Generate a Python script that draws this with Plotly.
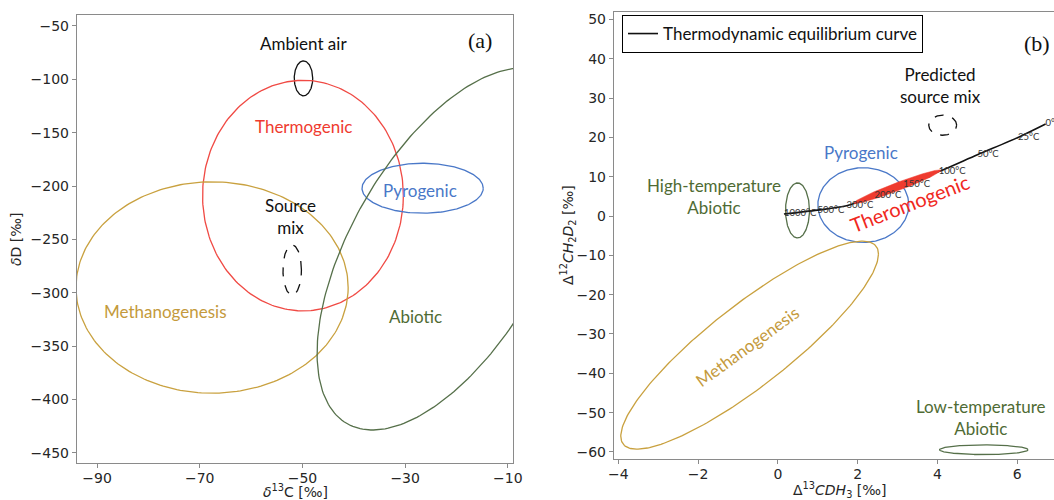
import numpy as np
import plotly.graph_objects as go

# ---------------- Panel (a): delta13C vs deltaD source fields ----------------
a_names = ["Ambient air", "Thermogenic", "Methanogenesis", "Pyrogenic", "Source mix", "Abiotic"]
a_cx = [-49.8, -49.9, -67.6, -26.6, -52.0, -21.8]
a_cy = [-99.0, -208.9, -295.0, -202.0, -278.6, -258.9]
a_sx = [1.8, 19.55, 26.5, 11.8, 1.8, 25.35]
a_sy = [16.4, 108.0, 99.0, 23.4, 23.5, 169.6]
a_corr = [0.0, 0.0, 0.0, 0.0, 0.0, 0.575]

# ---------------- Panel (b): clumped isotopes ----------------
b_names = ["High-temperature Abiotic", "Pyrogenic", "Methanogenesis",
           "Low-temperature Abiotic", "Predicted source mix"]
b_cx = [0.49, 2.14, -0.71, 5.16, 4.13]
b_cy = [1.43, 2.8, -32.84, -59.45, 23.1]
b_sx = [0.30, 1.14, 3.23, 1.11, 0.35]
b_sy = [7.0, 9.5, 26.46, 1.23, 2.55]
b_corr = [0.0, 0.0, 0.875, 0.0, 0.0]

# Thermogenic field along the equilibrium curve (filled)
thermo_cx, thermo_cy, thermo_sx, thermo_sy, thermo_corr = 2.99, 7.45, 1.09, 4.28, 0.967

# Thermodynamic equilibrium curve (temperature points)
eq_T = [1000, 500, 300, 200, 150, 100, 50, 25, 0]
eq_x = [0.15, 0.99, 1.72, 2.42, 3.14, 4.03, 5.00, 6.02, 6.71]
eq_y = [0.5, 1.5, 2.6, 5.1, 7.9, 11.3, 15.6, 20.0, 23.4]

RED = "#EF3B2F"
GOLD = "#C9A13F"
BLUE = "#4A78C8"
GREEN = "#4F6B34"
BLACK = "#111111"

a_style = {
    "Ambient air": dict(color=BLACK, dash="solid"),
    "Thermogenic": dict(color="#F04A44", dash="solid"),
    "Methanogenesis": dict(color=GOLD, dash="solid"),
    "Pyrogenic": dict(color=BLUE, dash="solid"),
    "Source mix": dict(color=BLACK, dash="dash"),
    "Abiotic": dict(color="#56704A", dash="solid"),
}
b_style = {
    "High-temperature Abiotic": dict(color="#56704A", dash="solid"),
    "Pyrogenic": dict(color=BLUE, dash="solid"),
    "Methanogenesis": dict(color=GOLD, dash="solid"),
    "Low-temperature Abiotic": dict(color="#56704A", dash="solid"),
    "Predicted source mix": dict(color=BLACK, dash="dash"),
}


def ellipse(cx, cy, sx, sy, r, n=241):
    t = np.linspace(0, 2 * np.pi, n)
    x = cx + sx * np.cos(t)
    y = cy + sy * (r * np.cos(t) + np.sqrt(1 - r * r) * np.sin(t))
    return x, y


fig = go.Figure()

for name, cx, cy, sx, sy, r in zip(a_names, a_cx, a_cy, a_sx, a_sy, a_corr):
    x, y = ellipse(cx, cy, sx, sy, r)
    st = a_style[name]
    fig.add_trace(go.Scatter(x=x, y=y, mode="lines", name=name, showlegend=False,
                             line=dict(color=st["color"], width=1.3, dash=st["dash"]),
                             xaxis="x", yaxis="y", hoverinfo="skip"))

for name, cx, cy, sx, sy, r in zip(b_names, b_cx, b_cy, b_sx, b_sy, b_corr):
    x, y = ellipse(cx, cy, sx, sy, r)
    st = b_style[name]
    fig.add_trace(go.Scatter(x=x, y=y, mode="lines", name=name, showlegend=False,
                             line=dict(color=st["color"], width=1.3, dash=st["dash"]),
                             xaxis="x2", yaxis="y2", hoverinfo="skip"))

fig.add_trace(go.Scatter(x=eq_x, y=eq_y, mode="lines", name="Thermodynamic equilibrium curve",
                         line=dict(color=BLACK, width=1.6, shape="spline", smoothing=0.8),
                         xaxis="x2", yaxis="y2", showlegend=True))

tx, ty = ellipse(thermo_cx, thermo_cy, thermo_sx, thermo_sy, thermo_corr)
fig.add_trace(go.Scatter(x=tx, y=ty, mode="lines", name="Thermogenic", showlegend=False,
                         fill="toself", fillcolor=RED, line=dict(color=RED, width=0.5),
                         xaxis="x2", yaxis="y2", hoverinfo="skip"))

fig.add_trace(go.Scatter(x=eq_x, y=eq_y, mode="text", showlegend=False,
                         text=[f"{t}\u00b0C" for t in eq_T], textposition="middle right",
                         textfont=dict(family="Lato", size=9.5, color="#333333"),
                         xaxis="x2", yaxis="y2", hoverinfo="skip"))

LBL = "Lato"
ann = []


def add_text(x, y, text, color, ref, size=17, angle=0, family=LBL):
    ann.append(dict(x=x, y=y, xref=ref[0], yref=ref[1], text=text, showarrow=False,
                    textangle=angle, font=dict(family=family, size=size, color=color),
                    xanchor="center", yanchor="middle"))


A = ("x", "y")
B = ("x2", "y2")
add_text(-49.8, -66.6, "Ambient air", BLACK, A)
add_text(-49.7, -144.6, "Thermogenic", RED, A)
add_text(-27.1, -204.5, "Pyrogenic", BLUE, A)
add_text(-52.25, -228.9, "Source<br>mix", BLACK, A)
add_text(-76.6, -317.8, "Methanogenesis", "#C49A3C", A)
add_text(-28.0, -322.4, "Abiotic", GREEN, A)
add_text(-15.4, -63.5, "(a)", BLACK, A, size=22, family="Liberation Serif")

add_text(4.08, 33.3, "Predicted<br>source mix", BLACK, B)
add_text(2.07, 16.1, "Pyrogenic", BLUE, B)
add_text(-1.6, 4.9, "High-temperature<br>Abiotic", GREEN, B)
add_text(3.32, 3.2, "Theromogenic", "#F0281E", B, size=20, angle=-21)
add_text(-0.77, -33.2, "Methanogenesis", "#C49A3C", B, angle=-36)
add_text(5.1, -51.3, "Low-temperature<br>Abiotic", GREEN, B)
add_text(6.5, 44.0, "(b)", BLACK, B, size=22, family="Liberation Serif")

W, H = 1054, 500
TFONT = dict(family="DejaVu Sans", size=14, color="#262626")
# axis titles (placed in the figure margins)
ann.append(dict(x=295 / W, y=-1 / H, xref="paper", yref="paper", xanchor="center", yanchor="bottom",
                text="<i>δ</i><sup>13</sup>C [‰]", showarrow=False, font=TFONT, borderpad=0))
ann.append(dict(x=16 / W, y=1 - 239 / H, xref="paper", yref="paper", xanchor="center", yanchor="middle",
                text="<i>δ</i>D [‰]", textangle=-90, showarrow=False, font=TFONT))
ann.append(dict(x=840 / W, y=-1 / H, xref="paper", yref="paper", xanchor="center", yanchor="bottom",
                text="Δ<sup>13</sup><i>CDH</i><sub>3</sub> [‰]", showarrow=False, font=TFONT, borderpad=0))
ann.append(dict(x=568 / W, y=1 - 235 / H, xref="paper", yref="paper", xanchor="center", yanchor="middle",
                text="Δ<sup>12</sup><i>CH</i><sub>2</sub><i>D</i><sub>2</sub> [‰]", textangle=-90,
                showarrow=False, font=TFONT))

axis_common = dict(showline=True, mirror=True, linecolor="#8a8a8a", linewidth=1.4,
                   ticks="outside", ticklen=4, tickwidth=1.2, tickcolor="#8a8a8a",
                   showgrid=False, zeroline=False, automargin=False,
                   tickfont=dict(family="DejaVu Sans", size=14, color="#262626"))

fig.update_layout(
    width=W, height=H,
    margin=dict(l=0, r=0, t=0, b=0),
    paper_bgcolor="white", plot_bgcolor="white",
    xaxis=dict(domain=[77 / W, 513 / W], range=[-93.9, -9.0], anchor="y",
               tickvals=[-90, -70, -50, -30, -10], ticklabelstandoff=-2, **axis_common),
    yaxis=dict(domain=[1 - 463 / H, 1 - 15 / H], range=[-459.4, -39.7], anchor="x",
               tickvals=[-450, -400, -350, -300, -250, -200, -150, -100, -50], **axis_common),
    xaxis2=dict(domain=[614 / W, 1.0], range=[-4.11, 6.92], anchor="y2",
                tickvals=[-4, -2, 0, 2, 4, 6], ticklabelstandoff=-2, **axis_common),
    yaxis2=dict(domain=[1 - 459 / H, 1 - 12 / H], range=[-61.8, 51.9], anchor="x2",
                tickvals=[-60, -50, -40, -30, -20, -10, 0, 10, 20, 30, 40, 50], **axis_common),
    legend=dict(x=622 / W, y=1 - 15 / H, xanchor="left", yanchor="top",
                bordercolor="black", borderwidth=1, bgcolor="white",
                font=dict(family=LBL, size=17, color=BLACK),
                itemwidth=30, tracegroupgap=0),
    annotations=ann,
)

fig.write_html("out.html")
